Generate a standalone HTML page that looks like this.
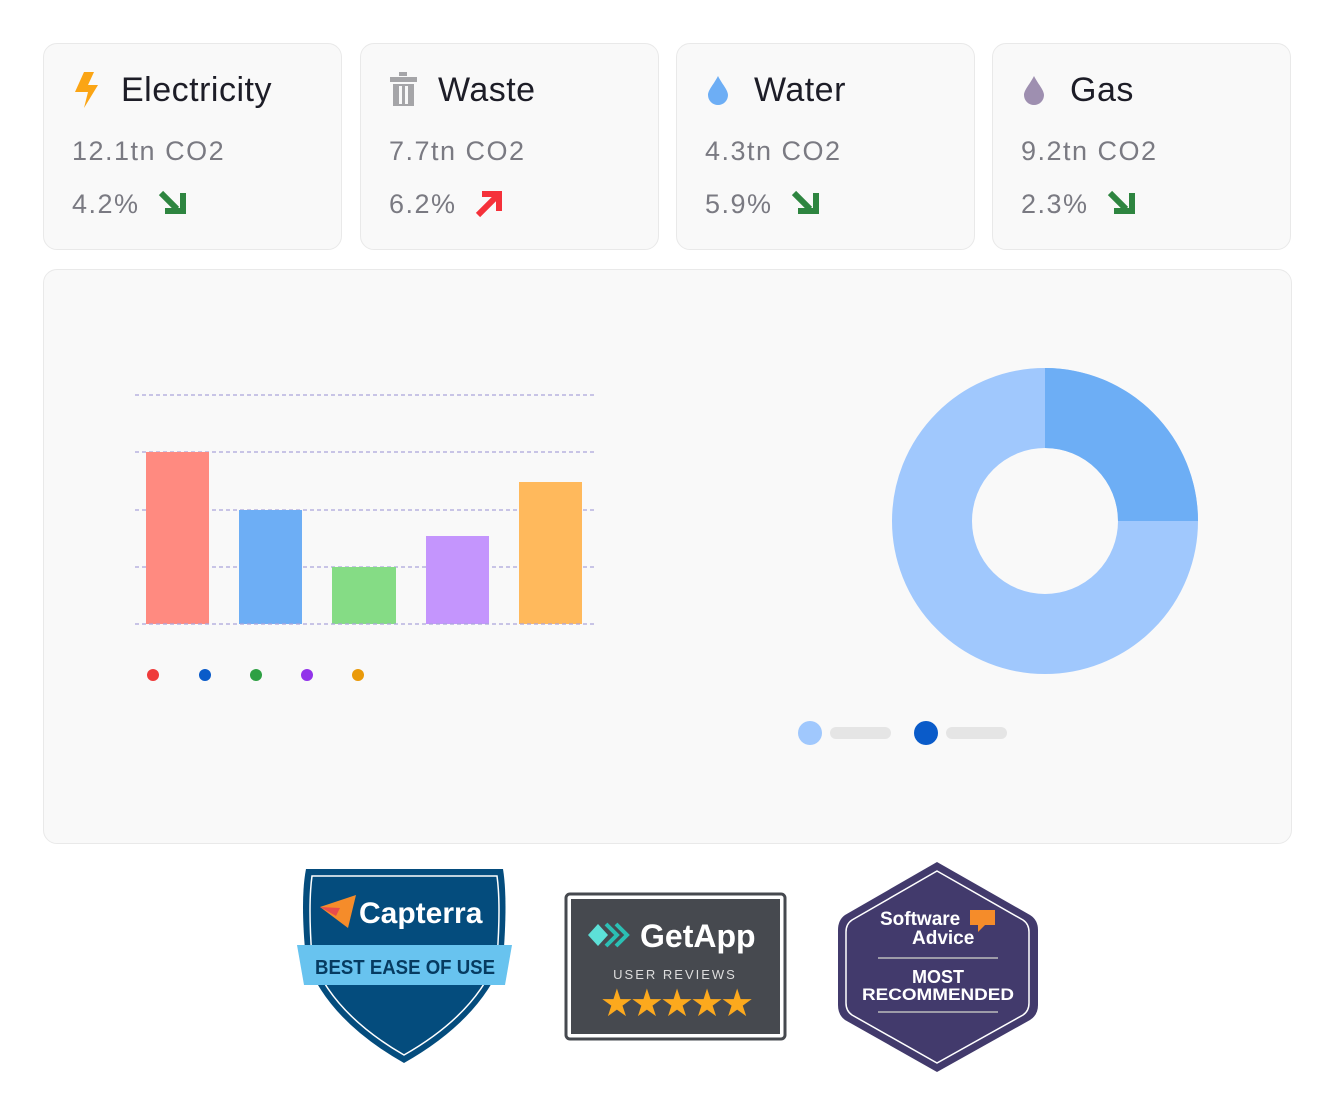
<!DOCTYPE html>
<html><head><meta charset="utf-8"><style>
body{margin:0;width:1335px;height:1116px;background:#fff;font-family:"Liberation Sans",sans-serif;position:relative;overflow:hidden}
.card{position:absolute;top:43px;width:299px;height:207px;border:1.5px solid #e9e9e9;border-radius:14px;background:#f9f9f9;box-sizing:border-box}
.t{position:absolute;left:77px;top:27px;font-size:34px;color:#1d1d27;letter-spacing:0.5px}
.v{position:absolute;left:28px;top:92px;font-size:27px;color:#7a7a82;letter-spacing:1.5px}
.p{position:absolute;left:28px;top:145px;font-size:27px;color:#7a7a82;letter-spacing:1.5px}
.ic{position:absolute;left:28px;top:28px}
.ar{position:absolute;left:113px;top:143px}
</style></head><body>
<div class="card" style="left:43px"><svg class="ic" width="30" height="36" viewBox="0 0 30 36"><path d="M12 0h10l-6 13h10L12 36l4-16H3z" fill="#fba515"/></svg><div class="t">Electricity</div><div class="v">12.1tn CO2</div><div class="p">4.2%</div><svg class="ar" width="32" height="32" viewBox="0 0 32 32"><path d="M4 6l16 16M8 24h18V6" stroke="#2e8540" stroke-width="6" fill="none"/></svg></div>
<div class="card" style="left:360px"><svg class="ic" width="30" height="36" viewBox="0 0 30 36"><rect x="10" y="0" width="8" height="4" fill="#a5a5a8"/><rect x="1" y="5" width="27" height="5" fill="#a5a5a8"/><path d="M4 12h21v22H4z" fill="#a5a5a8"/><rect x="10" y="14" width="3" height="18" fill="#f9f9f9"/><rect x="16" y="14" width="3" height="18" fill="#f9f9f9"/></svg><div class="t">Waste</div><div class="v">7.7tn CO2</div><div class="p">6.2%</div><svg class="ar" width="32" height="32" viewBox="0 0 32 32"><path d="M4 28L22 10M8 7h17v17" stroke="#f5313a" stroke-width="6" fill="none"/></svg></div>
<div class="card" style="left:676px"><svg class="ic" width="30" height="36" viewBox="0 0 30 36"><path d="M13 4C9 12 3 18 3 23a10 10 0 0 0 20 0c0-5-6-11-10-19z" fill="#6daef5"/></svg><div class="t">Water</div><div class="v">4.3tn CO2</div><div class="p">5.9%</div><svg class="ar" width="32" height="32" viewBox="0 0 32 32"><path d="M4 6l16 16M8 24h18V6" stroke="#2e8540" stroke-width="6" fill="none"/></svg></div>
<div class="card" style="left:992px"><svg class="ic" width="30" height="36" viewBox="0 0 30 36"><path d="M13 4C9 12 3 18 3 23a10 10 0 0 0 20 0c0-5-6-11-10-19z" fill="#9e8fb0"/></svg><div class="t">Gas</div><div class="v">9.2tn CO2</div><div class="p">2.3%</div><svg class="ar" width="32" height="32" viewBox="0 0 32 32"><path d="M4 6l16 16M8 24h18V6" stroke="#2e8540" stroke-width="6" fill="none"/></svg></div>
<div style="position:absolute;left:43px;top:269px;width:1249px;height:575px;border:1.5px solid #e9e9e9;border-radius:14px;background:#f9f9f9;box-sizing:border-box"></div>
<svg style="position:absolute;left:0;top:0" width="1335" height="1116">
<g stroke="#aaa4dc" stroke-width="1.2" stroke-dasharray="4 3">
<line x1="135" y1="395" x2="595" y2="395"/><line x1="135" y1="452" x2="595" y2="452"/><line x1="135" y1="510" x2="595" y2="510"/><line x1="135" y1="567" x2="595" y2="567"/></g>
<rect x="146" y="452" width="63" height="172" fill="#ff8a80"/>
<rect x="239" y="510" width="63" height="114" fill="#6daef5"/>
<rect x="332" y="567" width="64" height="57" fill="#85dc85"/>
<rect x="426" y="536" width="63" height="88" fill="#c495fd"/>
<rect x="519" y="482" width="63" height="142" fill="#ffb95c"/>
<line x1="135" y1="624" x2="595" y2="624" stroke="#aaa4dc" stroke-width="1.2" stroke-dasharray="4 3"/>
<circle cx="153" cy="675" r="6" fill="#ef3b3b"/><circle cx="205" cy="675" r="6" fill="#0a5bc9"/><circle cx="256" cy="675" r="6" fill="#2ea043"/><circle cx="307" cy="675" r="6" fill="#9233ea"/><circle cx="358" cy="675" r="6" fill="#ea9a0a"/>
<circle cx="1045" cy="521" r="113" fill="none" stroke="#a0c8fd" stroke-width="80"/>
<path d="M1045 368A153 153 0 0 1 1198 521H1118A73 73 0 0 0 1045 448Z" fill="#6daef5"/>
<circle cx="810" cy="733" r="12" fill="#a0c8fd"/><rect x="830" y="727" width="61" height="12" rx="6" fill="#e5e5e5"/>
<circle cx="926" cy="733" r="12" fill="#0a5bc9"/><rect x="946" y="727" width="61" height="12" rx="6" fill="#e5e5e5"/>
<path d="M306 869H503Q508 900 503 960Q480 1020 404 1063Q328 1020 306 960Q300 900 306 869Z" fill="#044c7d"/>
<path d="M312 876H497Q501 905 497 958Q476 1014 404 1055Q333 1014 312 958Q308 905 312 876Z" fill="none" stroke="#fff" stroke-width="1.5"/>
<path d="M297 945H512L505 985H304Z" fill="#68c3ef"/>
<text x="405" y="974" text-anchor="middle" font-size="20" font-weight="bold" fill="#063b61" textLength="180" lengthAdjust="spacingAndGlyphs">BEST EASE OF USE</text>
<path d="M320 907L356 895L348 928Z" fill="#f58c2a"/><path d="M320 907L340 908L336 916Z" fill="#e84c4c"/>
<text x="359" y="923" font-size="30" font-weight="bold" fill="#fff">Capterra</text>
<rect x="566" y="894" width="219" height="145" rx="4" fill="#fff" stroke="#46494f" stroke-width="3"/>
<rect x="571" y="899" width="209" height="135" fill="#46494f"/>
<path d="M588 935L598 924L608 935L598 946Z" fill="#5de0d8"/><path d="M606 924L617 935L606 946M616 924L627 935L616 946" stroke="#2bbfb4" stroke-width="4" fill="none"/>
<text x="640" y="947" font-size="32" font-weight="bold" fill="#fff">GetApp</text>
<text x="675" y="979" text-anchor="middle" font-size="13" letter-spacing="2" fill="#ddd">USER REVIEWS</text>
<text x="675" y="1016" text-anchor="middle" font-size="38" letter-spacing="-4" fill="#fca91d">★★★★★</text>
<path d="M937 862L1030 915Q1038 920 1038 930V1005Q1038 1015 1030 1020L937 1072L845 1020Q838 1015 838 1005V930Q838 920 845 915Z" fill="#423a6c"/>
<path d="M937 871L1023 920Q1029 924 1029 932V1003Q1029 1011 1023 1015L937 1063L852 1015Q846 1011 846 1003V932Q846 924 852 920Z" fill="none" stroke="#fff" stroke-width="1.5"/>
<text x="880" y="925" font-size="19" font-weight="bold" fill="#fff">Software</text>
<text x="912" y="944" font-size="19" font-weight="bold" fill="#fff">Advice</text>
<path d="M970 910H995V925H985L978 932V925H970Z" fill="#f58c2a"/>
<line x1="878" y1="958" x2="998" y2="958" stroke="#bbb" stroke-width="1.5"/>
<text x="938" y="983" text-anchor="middle" font-size="18" font-weight="bold" fill="#fff">MOST</text>
<text x="938" y="1000" text-anchor="middle" font-size="17" font-weight="bold" fill="#fff" textLength="152" lengthAdjust="spacingAndGlyphs">RECOMMENDED</text>
<line x1="878" y1="1012" x2="998" y2="1012" stroke="#bbb" stroke-width="1.5"/>
</svg>
</body></html>
